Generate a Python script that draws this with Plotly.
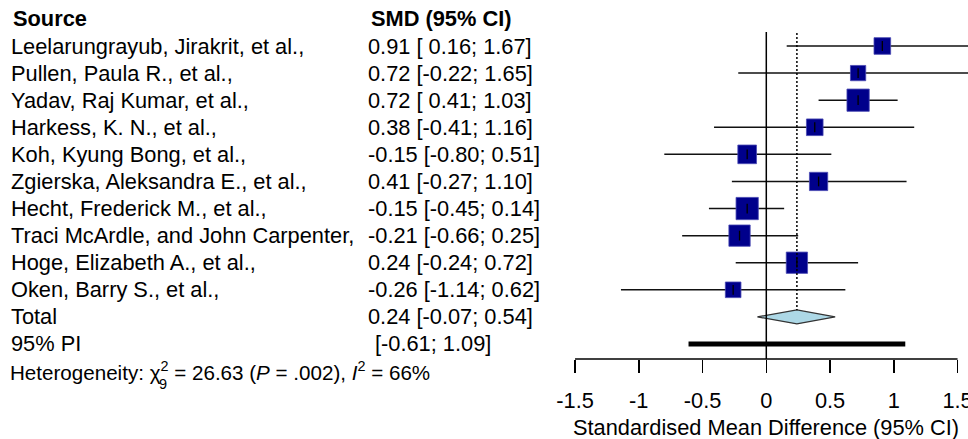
import math
import plotly.graph_objects as go

# ---------------- data ----------------
studies = [
    "Leelarungrayub, Jirakrit, et al.,",
    "Pullen, Paula R., et al.,",
    "Yadav, Raj Kumar, et al.,",
    "Harkess, K. N., et al.,",
    "Koh, Kyung Bong, et al.,",
    "Zgierska, Aleksandra E., et al.,",
    "Hecht, Frederick M., et al.,",
    "Traci McArdle, and John Carpenter,",
    "Hoge, Elizabeth A., et al.,",
    "Oken, Barry S., et al.,",
]
smd = [0.91, 0.72, 0.72, 0.38, -0.15, 0.41, -0.15, -0.21, 0.24, -0.26]
ci_low = [0.16, -0.22, 0.41, -0.41, -0.80, -0.27, -0.45, -0.66, -0.24, -1.14]
ci_high = [1.67, 1.65, 1.03, 1.16, 0.51, 1.10, 0.14, 0.25, 0.72, 0.62]
weights = [7.7, 6.5, 13.8, 7.7, 9.7, 9.3, 13.8, 12.6, 12.6, 6.8]  # % (estimated)

total_est, total_low, total_high = 0.24, -0.07, 0.54
pi_low, pi_high = -0.61, 1.09

tick_vals = [-1.5, -1, -0.5, 0, 0.5, 1, 1.5]
tick_labels = ["-1.5", "-1", "-0.5", "0", "0.5", "1", "1.5"]

# ---------------- geometry helpers ----------------
W, H = 968, 439
X0_PX, X_SCALE = 766.3, 127.5           # px of x=0, px per unit
ROW0_PX, ROW_H = 46.0, 27.09            # px of row 1, px per row
FONT = "Liberation Sans, Arial, sans-serif"
FS = 21.8

def k_of_px(py):
    return 1 + (py - ROW0_PX) / ROW_H

x_range = [(0 - X0_PX) / X_SCALE, (W - X0_PX) / X_SCALE]
y_range = [k_of_px(H), k_of_px(0)]

rows = list(range(1, len(studies) + 1))
k_total = len(studies) + 1
k_pi = len(studies) + 2
k_het = len(studies) + 3
k_axis = k_of_px(359)

fig = go.Figure()

# CI lines
cx, cy = [], []
for lo, hi, k in zip(ci_low, ci_high, rows):
    cx += [lo, hi, None]
    cy += [k, k, None]
fig.add_trace(go.Scatter(x=cx, y=cy, mode="lines",
                         line=dict(color="#111111", width=1.5),
                         hoverinfo="skip", showlegend=False))

# squares
fig.add_trace(go.Scatter(
    x=smd, y=rows, mode="markers",
    marker=dict(symbol="square", size=[6.0 * math.sqrt(w) for w in weights],
                color="#00008B", opacity=1,
                line=dict(color="#4a4ab4", width=0.8)),
    showlegend=False, hoverinfo="skip"))

# small vertical tick at the estimate
fig.add_trace(go.Scatter(
    x=smd, y=rows, mode="markers",
    marker=dict(symbol="line-ns", size=7, opacity=1,
                line=dict(color="#000000", width=1.3)),
    showlegend=False, hoverinfo="skip"))

# diamond
hh = 7.0 / ROW_H
fig.add_trace(go.Scatter(
    x=[total_low, total_est, total_high, total_est, total_low],
    y=[k_total, k_total - hh, k_total, k_total + hh, k_total],
    mode="lines", fill="toself", fillcolor="#ADD8E6",
    line=dict(color="#333333", width=1.2),
    showlegend=False, hoverinfo="skip"))

# prediction interval bar
fig.add_trace(go.Scatter(
    x=[pi_low, pi_high], y=[k_pi, k_pi], mode="lines",
    line=dict(color="#000000", width=5),
    showlegend=False, hoverinfo="skip"))

shapes = [
    # line of no effect
    dict(type="line", xref="x", yref="y", x0=0, x1=0,
         y0=k_of_px(32), y1=k_axis, line=dict(color="#000000", width=1.5)),
    # dotted summary line
    dict(type="line", xref="x", yref="y", x0=total_est, x1=total_est,
         y0=k_of_px(33), y1=k_total - hh,
         line=dict(color="#000000", width=1.5, dash="2px,2px")),
    # x axis line
    dict(type="line", xref="x", yref="y", x0=tick_vals[0], x1=tick_vals[-1],
         y0=k_axis, y1=k_axis, line=dict(color="#000000", width=1.5)),
]

ann = []
def txt(x_px, k, s, size=FS, bold=False):
    ann.append(dict(x=x_px / W, xref="paper", y=k, yref="y", text=(f"<b>{s}</b>" if bold else s),
                    showarrow=False, xanchor="left", yanchor="middle",
                    font=dict(family=FONT, size=size, color="#000000")))

txt(10.5, 0, "Source", bold=True)
txt(369, 0, "SMD (95% CI)", bold=True)
for name, e, lo, hi, k in zip(studies, smd, ci_low, ci_high, rows):
    txt(9, k, name)
    lo_s = f"{lo:.2f}" if lo < 0 else f" {lo:.2f}"
    txt(366, k, f"{e:.2f} [{lo_s}; {hi:.2f}]")
txt(9, k_total, "Total")
lo_s = f"{total_low:.2f}" if total_low < 0 else f" {total_low:.2f}"
txt(366, k_total, f"{total_est:.2f} [{lo_s}; {total_high:.2f}]")
txt(9, k_pi, "95% PI")
txt(373, k_pi, f"[{pi_low:.2f}; {pi_high:.2f}]")
txt(8, k_het, "Heterogeneity: χ<sup>2</sup> = 26.63 (<i>P</i> = .002), <i>I</i><sup>2</sup> = 66%", size=20.6)
ann.append(dict(x=157 / W, xref="paper", y=k_of_px(384), yref="y", text="9",
                showarrow=False, xanchor="left", yanchor="middle",
                font=dict(family=FONT, size=14.5, color="#000000")))
# axis title
ann.append(dict(x=0, xref="x", y=k_of_px(427), yref="y",
                text="Standardised Mean Difference (95% CI)", showarrow=False,
                xanchor="center", yanchor="middle",
                font=dict(family=FONT, size=FS, color="#000000")))

fig.update_layout(
    width=W, height=H, margin=dict(l=0, r=0, t=0, b=0, pad=0, autoexpand=False),
    paper_bgcolor="white", plot_bgcolor="white",
    shapes=shapes, annotations=ann, showlegend=False,
    xaxis=dict(range=x_range, domain=[0, 1], anchor="free", position=1 - 359 / H,
               showline=False, showgrid=False, zeroline=False, automargin=False,
               ticks="outside", ticklen=13, tickwidth=1.5, tickcolor="#000000",
               tickvals=tick_vals, ticktext=tick_labels, ticklabelstandoff=9,
               ticklabeloverflow="allow",
               tickfont=dict(family=FONT, size=FS, color="#000000"), fixedrange=True),
    yaxis=dict(range=y_range, visible=False, fixedrange=True, automargin=False),
)

fig.write_html(
    "out.html",
    config={"displayModeBar": False, "staticPlot": True},
    post_script="document.body.style.margin='0px';document.body.style.overflow='hidden';",
)
